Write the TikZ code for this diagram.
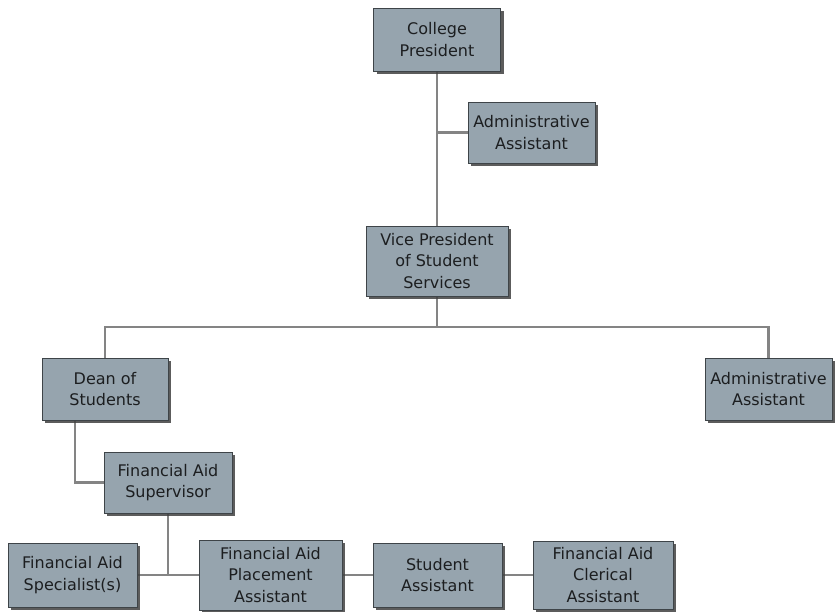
\documentclass[tikz,border=0pt]{standalone}
\usepackage{fontspec}
\setmainfont{DejaVu Sans}
\usetikzlibrary{shadows,backgrounds}
\definecolor{boxgray}{RGB}{150,164,174}
\definecolor{boxline}{RGB}{62,68,72}
\definecolor{linkgray}{RGB}{132,132,132}
\definecolor{textdark}{RGB}{28,30,32}

\begin{document}
\begin{tikzpicture}[x=1pt,y=-1pt]

      \useasboundingbox (0,0) rectangle (835,612);

      \begin{scope}[every node/.style={rectangle,draw=boxline,line width=0.8pt,fill=boxgray,
          text=textdark,align=center,inner sep=1pt,
          font=\fontsize{16}{21.5}\selectfont,
          drop shadow={shadow xshift=3pt,shadow yshift=-3pt,fill=black!75,opacity=0.85}}]
        \node[minimum width=127,minimum height=63] (pres) at (437,39.5) {College\\President};
        \node[minimum width=127,minimum height=61] (aa1) at (531.5,132.5) {Administrative\\Assistant};
        \node[minimum width=142,minimum height=70] (vp) at (437,261) {Vice President\\of Student\\Services};
        \node[minimum width=126,minimum height=62] (dean) at (105,389) {Dean of\\Students};
        \node[minimum width=127,minimum height=62] (aa2) at (768.5,389) {Administrative\\Assistant};
        \node[minimum width=128,minimum height=61] (sup) at (168,482.5) {Financial Aid\\Supervisor};
        \node[minimum width=129,minimum height=64] (spec) at (72.5,575) {Financial Aid\\Specialist(s)};
        \node[minimum width=143,minimum height=70] (place) at (270.5,575) {Financial Aid\\Placement\\Assistant};
        \node[minimum width=129,minimum height=64] (stud) at (437.5,575) {Student\\Assistant};
        \node[minimum width=140,minimum height=68] (cler) at (603,575) {Financial Aid\\Clerical\\Assistant};
      \end{scope}

      \coordinate (bus) at (437,327);

      \begin{scope}[on background layer,every path/.style={draw=linkgray,line width=2.6pt}]
        \path (pres.south) -- (vp.north);
        \path (pres.south |- aa1.west) -- (aa1.west);
        \path (vp.south) -- (bus);
        \path (dean.north) |- (bus) -| (aa2.north);
        \path ([xshift=-30pt]dean.south) |- (sup.west);
        \path (sup.south) -- (sup.south |- spec.east);
        \path (spec.east) -- (place.west);
        \path (place.east) -- (stud.west);
        \path (stud.east) -- (cler.west);
      \end{scope}

    \end{tikzpicture}
\end{document}
